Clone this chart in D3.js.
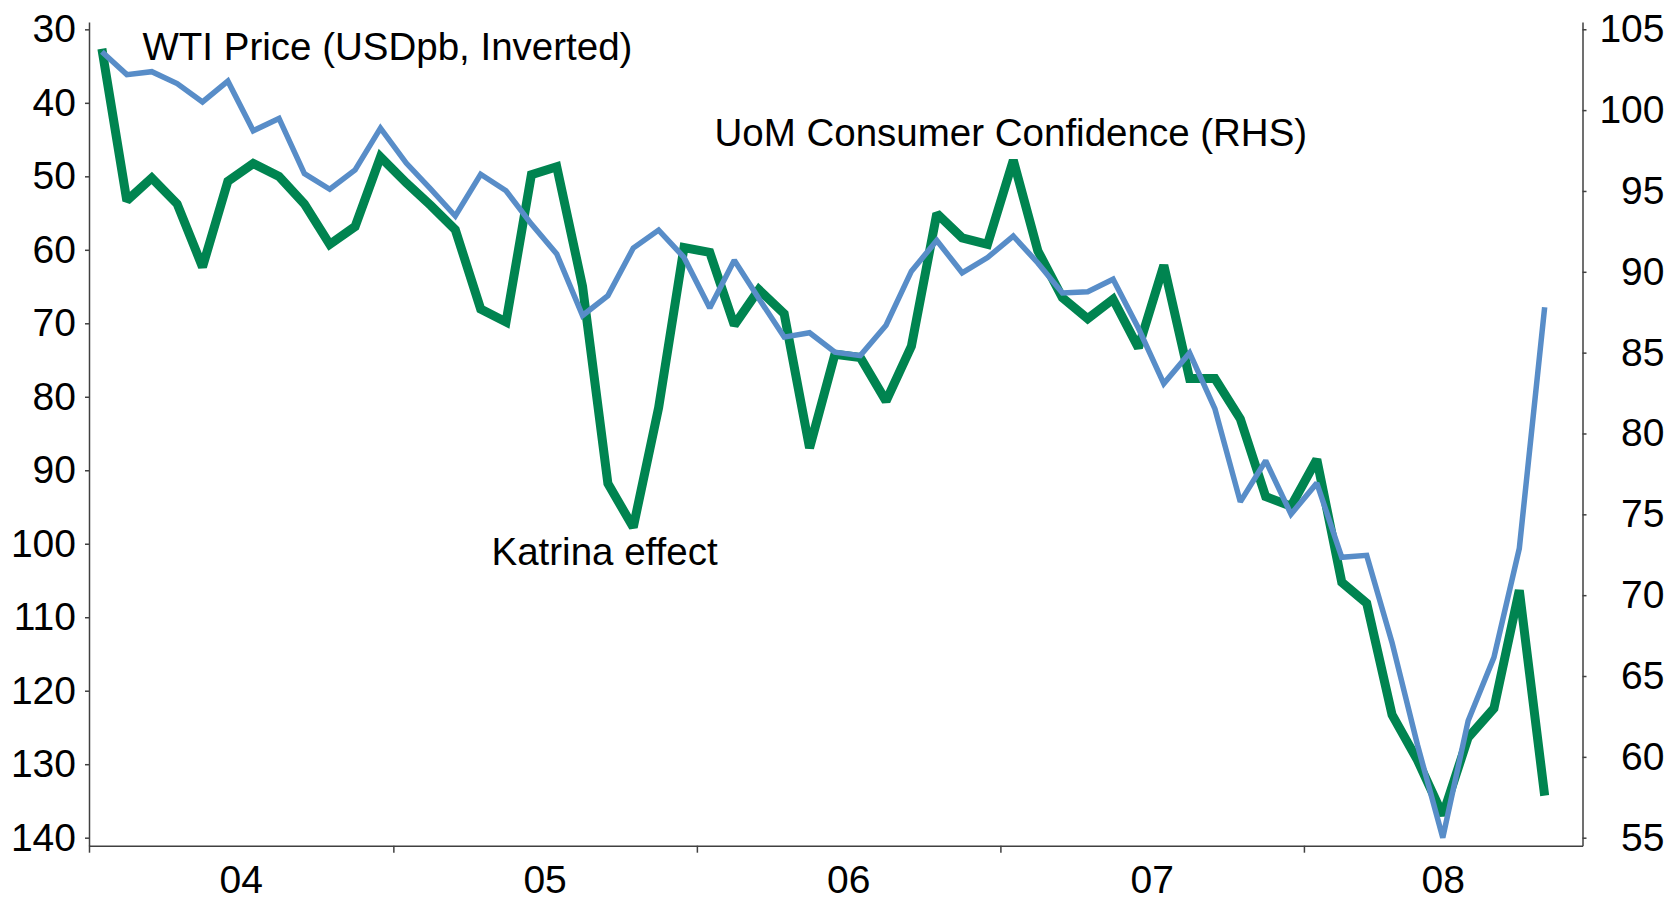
<!DOCTYPE html>
<html>
<head>
<meta charset="utf-8">
<script src="https://cdn.jsdelivr.net/npm/d3@7/dist/d3.min.js"></script>
<style>
  body { margin: 0; background: #fff; }
  text { font-family: "Liberation Sans", Arial, sans-serif; fill: #000; }
</style>
</head>
<body>
<svg id="chart" width="1670" height="901"></svg>
<script>
// monthly, Jan 2004 .. Oct 2008
const firstMonth = "2004-01";
const lastMonth = "2008-10";

// WTI, USD per barrel (month end) - plotted on the inverted left axis
const wti = [
  33.05, 36.16, 35.76, 37.38, 39.88, 37.05, 43.80, 42.12, 49.64, 51.76, 49.13, 43.45,
  48.20, 51.75, 55.40, 49.72, 51.97, 56.50, 60.57, 68.94, 66.24, 59.76, 57.32, 61.04,
  67.92, 61.41, 66.63, 71.88, 71.29, 73.93, 74.40, 70.26, 62.91, 58.73, 63.13, 61.05,
  58.14, 61.79, 65.87, 65.71, 64.01, 70.68, 78.21, 74.04, 81.66, 94.30, 88.71, 95.98,
  91.75, 101.84, 101.58, 113.46, 127.35, 140.00, 124.08, 115.46, 100.64, 67.81
];

// University of Michigan consumer confidence - right axis
const uom = [
  103.8, 94.4, 95.8, 94.2, 90.3, 95.6, 96.7, 95.9, 94.2, 91.7, 92.8, 97.1,
  95.5, 94.1, 92.6, 87.7, 86.9, 96.0, 96.5, 89.1, 76.9, 74.2, 81.6, 91.5,
  91.2, 86.7, 88.9, 87.4, 79.1, 84.9, 84.7, 82.0, 85.4, 93.6, 92.1, 91.7,
  96.9, 91.3, 88.4, 87.1, 88.3, 85.3, 90.4, 83.4, 83.4, 80.9, 76.1, 75.5,
  78.4, 70.8, 69.5, 62.6, 59.8, 56.4, 61.2, 63.0, 70.3, 57.6
];

const wtiTicks = [30, 40, 50, 60, 70, 80, 90, 100, 110, 120, 130, 140];
const uomTicks = [55, 60, 65, 70, 75, 80, 85, 90, 95, 100, 105];
const yearLabels = ["04", "05", "06", "07", "08"];

const W = 1670, H = 901;
const plotLeft = 89, plotRight = 1582.5, plotTop = 22, plotBottom = 845.7;
const axisColor = "#404040";
const tickFont = 39;

const svg = d3.select("#chart");
svg.append("rect").attr("width", W).attr("height", H).attr("fill", "#fff");

const parse = d3.utcParse("%Y-%m");
const months = d3.utcMonth.range(parse(firstMonth), d3.utcMonth.offset(parse(lastMonth), 1));
const midMonth = d => new Date((+d + +d3.utcMonth.offset(d, 1)) / 2);

const x = d3.scaleUtc()
  .domain([parse("2004-01"), parse("2008-12")])
  .range([plotLeft, plotRight]);

const yL = d3.scaleLinear().domain([29.0, 141.09]).range([plotTop, plotBottom]);   // inverted
const yR = d3.scaleLinear().domain([54.505, 105.45]).range([plotBottom, plotTop]);

function styleAxis(g) {
  g.selectAll("path, line").attr("stroke", axisColor).attr("stroke-width", 1.5);
  g.selectAll("text").attr("font-size", tickFont).attr("fill", "#000")
    .attr("font-family", '"Liberation Sans", Arial, sans-serif');
}

// x axis
const gx = svg.append("g")
  .attr("transform", `translate(0,${plotBottom})`)
  .call(d3.axisBottom(x).ticks(d3.utcYear.every(1)).tickFormat("").tickSize(7).tickSizeOuter(0));
styleAxis(gx);

const yearStarts = d3.utcYear.range(x.domain()[0], x.domain()[1]);
svg.append("g").selectAll("text")
  .data(yearStarts)
  .join("text")
  .attr("x", d => {
    const end = d3.min([d3.utcYear.offset(d, 1), x.domain()[1]]);
    return (x(d) + x(end)) / 2;
  })
  .attr("y", 892.5)
  .attr("text-anchor", "middle")
  .attr("font-size", tickFont)
  .text((d, i) => yearLabels[i]);

// left axis
const gl = svg.append("g")
  .attr("transform", `translate(${plotLeft},0)`)
  .call(d3.axisLeft(yL).tickValues(wtiTicks).tickSize(4).tickPadding(9).tickSizeOuter(0));
styleAxis(gl);

// right axis, labels right aligned
const gr = svg.append("g")
  .attr("transform", `translate(${plotRight},0)`)
  .call(d3.axisRight(yR).tickValues(uomTicks).tickSize(4).tickSizeOuter(0));
styleAxis(gr);
gr.selectAll(".tick text").attr("x", 82).attr("text-anchor", "end");

// lines
const uomLine = d3.line()
  .x((d, i) => x(midMonth(months[i])))
  .y(d => yR(d));
const wtiLine = d3.line()
  .x((d, i) => x(midMonth(months[i])))
  .y(d => yL(d));

svg.append("path")
  .datum(uom)
  .attr("d", uomLine)
  .attr("fill", "none")
  .attr("stroke", "#008450")
  .attr("stroke-width", 9)
  .attr("stroke-linejoin", "miter")
  .attr("stroke-miterlimit", 2);

svg.append("path")
  .datum(wti)
  .attr("d", wtiLine)
  .attr("fill", "none")
  .attr("stroke", "#588dc8")
  .attr("stroke-width", 5.5)
  .attr("stroke-linejoin", "miter")
  .attr("stroke-miterlimit", 2);

// annotations
const notes = svg.append("g").attr("font-size", 38.5);
notes.append("text").attr("x", 142.5).attr("y", 60).text("WTI Price (USDpb, Inverted)");
notes.append("text").attr("x", 714.5).attr("y", 145.5).text("UoM Consumer Confidence (RHS)");
notes.append("text").attr("x", 491.5).attr("y", 565).text("Katrina effect");
</script>
</body>
</html>
